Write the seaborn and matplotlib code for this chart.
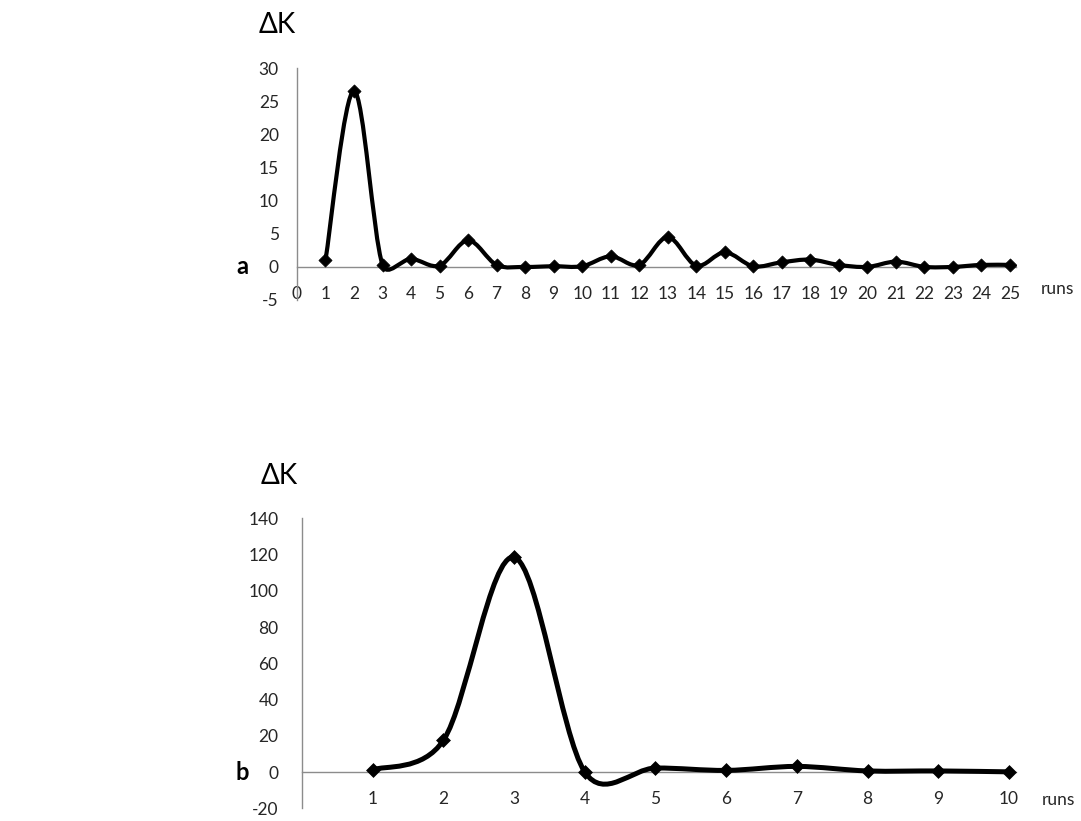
import numpy as np
import pandas as pd
import matplotlib
matplotlib.use("Agg")
import matplotlib.pyplot as plt
from matplotlib.path import Path
from matplotlib.patches import PathPatch
import seaborn as sns

# ---- data ----
runs_a = list(range(1, 26))
dk_a = [1.0, 26.6, 0.3, 1.2, 0.2, 4.0, 0.3, 0.0, 0.1, 0.1, 1.6, 0.3, 4.5,
        0.2, 2.2, 0.1, 0.7, 1.1, 0.3, 0.0, 0.8, 0.0, 0.0, 0.3, 0.3]
runs_b = list(range(1, 11))
dk_b = [1.2, 17.5, 118.5, 0.0, 2.2, 0.9, 3.1, 0.6, 0.6, 0.1]

xticks_a = list(range(0, 26))
yticks_a = [-5, 0, 5, 10, 15, 20, 25, 30]
xticks_b = list(range(1, 11))
yticks_b = [-20, 0, 20, 40, 60, 80, 100, 120, 140]

sns.set_theme(style="white")
plt.rcParams['font.family'] = ['Lato', 'DejaVu Sans']
plt.rcParams['axes.unicode_minus'] = False

AX_COL = '#8c8c8c'
TXT_COL = '#262626'


def smooth_path(ax, xs, ys):
    """Excel-like smoothed line: cubic Bezier through the points, with
    control points computed in display space and limited to half the
    segment length."""
    pts = ax.transData.transform(np.column_stack([xs, ys]).astype(float))
    n = len(pts)
    f = 1.0 / 6.0
    disp = [pts[0]]
    codes = [Path.MOVETO]
    for i in range(n - 1):
        p0 = pts[max(i - 1, 0)]
        p1 = pts[i]
        p2 = pts[i + 1]
        p3 = pts[min(i + 2, n - 1)]
        seg = np.linalg.norm(p2 - p1)
        t1 = (p2 - p0) * f
        t2 = (p3 - p1) * f
        l1 = np.linalg.norm(t1)
        l2 = np.linalg.norm(t2)
        if l1 > seg / 2 and l1 > 0:
            t1 = t1 * (seg / 2) / l1
        if l2 > seg / 2 and l2 > 0:
            t2 = t2 * (seg / 2) / l2
        disp += [p1 + t1, p2 - t2, p2]
        codes += [Path.CURVE4] * 3
    data = ax.transData.inverted().transform(np.array(disp))
    return Path(data, codes)


def style_axes(ax):
    for s in ['top', 'right']:
        ax.spines[s].set_visible(False)
    ax.spines['left'].set_color(AX_COL)
    ax.spines['bottom'].set_color(AX_COL)
    ax.spines['left'].set_linewidth(1.0)
    ax.spines['bottom'].set_linewidth(1.0)
    ax.spines['bottom'].set_position(('data', 0))
    ax.tick_params(axis='both', colors=AX_COL, labelcolor=TXT_COL,
                   labelsize=12.5, length=4, width=1.0, direction='out')
    ax.set_xlabel('')
    ax.set_ylabel('')
    ax.grid(False)


fig = plt.figure(figsize=(10.81, 8.21), dpi=100)

# ---- panel a ----
ax1 = fig.add_axes([0.2747, 0.6346, 0.6649, 0.2822])
df_a = pd.DataFrame({'runs': runs_a, 'dK': dk_a})
ax1.set_xlim(0, 25.2)
ax1.set_ylim(-5, 30)
sns.scatterplot(data=df_a, x='runs', y='dK', marker='D', s=45,
                color='black', edgecolor='black', linewidth=0.5,
                zorder=4, ax=ax1)
ax1.set_xlim(0, 25.2)
ax1.set_ylim(-5, 30)
ax1.add_patch(PathPatch(smooth_path(ax1, runs_a, dk_a), fill=False,
                        edgecolor='black', lw=3.0, capstyle='round',
                        joinstyle='round', zorder=3))
ax1.set_xticks(xticks_a)
ax1.set_yticks(yticks_a)
style_axes(ax1)
ax1.tick_params(axis='x', pad=9.5, length=4)
ax1.tick_params(axis='y', pad=9, length=4)

# ---- panel b ----
ax2 = fig.add_axes([0.2794, 0.0155, 0.6605, 0.3532])
df_b = pd.DataFrame({'runs': runs_b, 'dK': dk_b})
ax2.set_xlim(0, 10.1)
ax2.set_ylim(-20, 140)
sns.scatterplot(data=df_b, x='runs', y='dK', marker='D', s=50,
                color='black', edgecolor='black', linewidth=0.5,
                zorder=4, ax=ax2)
ax2.set_xlim(0, 10.1)
ax2.set_ylim(-20, 140)
ax2.add_patch(PathPatch(smooth_path(ax2, runs_b, dk_b), fill=False,
                        edgecolor='black', lw=3.6, capstyle='round',
                        joinstyle='round', zorder=3))
ax2.set_xticks(xticks_b)
ax2.set_yticks(yticks_b)
style_axes(ax2)
ax2.tick_params(axis='x', pad=9, length=5)
ax2.tick_params(axis='y', pad=12, length=5)

# ---- labels ----
W, H = 1081.0, 821.0
def ftext(px, py, s, **kw):
    fig.text(px / W, 1 - py / H, s, **kw)

ftext(277, 25, 'ΔK', fontsize=20, ha='center', va='center', color='black')
ftext(279, 476, 'ΔK', fontsize=20, ha='center', va='center', color='black')
ftext(242, 266, 'a', fontsize=17, fontweight='bold', ha='center', va='center', color='black')
ftext(242, 772, 'b', fontsize=17, fontweight='bold', ha='center', va='center', color='black')
ftext(1057, 289, 'runs', fontsize=12.5, ha='center', va='center', color=TXT_COL)
ftext(1058, 800, 'runs', fontsize=12.5, ha='center', va='center', color=TXT_COL)

fig.savefig('out.png', dpi=100, facecolor='white')
